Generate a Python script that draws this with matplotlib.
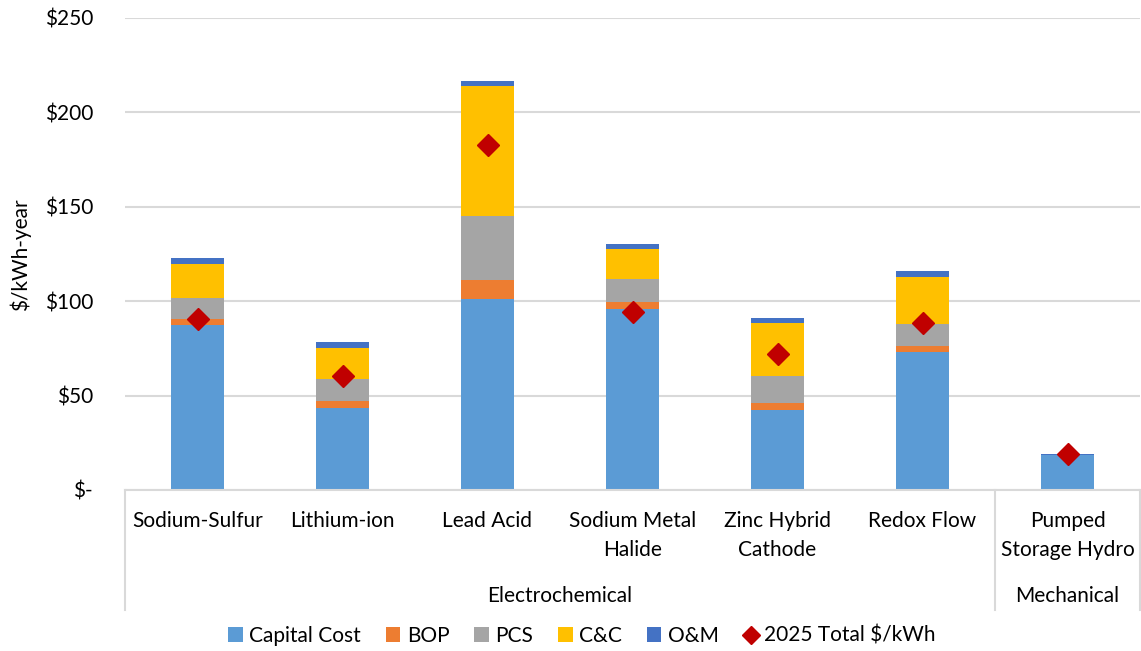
import matplotlib
matplotlib.use("Agg")
import matplotlib.pyplot as plt
import numpy as np
from matplotlib.lines import Line2D
from matplotlib.patches import Patch

plt.rcParams['font.family'] = ['Lato', 'DejaVu Sans']

categories = ["Sodium-Sulfur", "Lithium-ion", "Lead Acid", "Sodium Metal\nHalide",
              "Zinc Hybrid\nCathode", "Redox Flow", "Pumped\nStorage Hydro"]
groups = ["Electrochemical", "Mechanical"]
group_sizes = [6, 1]

capital = [87.2, 43.4, 101.3, 96.0, 42.5, 73.3, 18.4]
bop = [3.2, 3.9, 9.8, 3.7, 3.7, 3.1, 0.0]
pcs = [11.5, 11.7, 34.2, 11.9, 14.3, 11.7, 0.0]
cc = [17.8, 16.4, 68.7, 15.9, 27.8, 24.9, 0.0]
om = [3.0, 2.8, 2.6, 3.0, 3.0, 3.2, 0.8]
total_2025 = [90.7, 60.5, 182.9, 94.3, 71.9, 88.3, 19.2]

series = [("Capital Cost", capital, "#5B9BD5"),
          ("BOP", bop, "#ED7D31"),
          ("PCS", pcs, "#A5A5A5"),
          ("C&C", cc, "#FFC000"),
          ("O&M", om, "#4472C4")]

yticks = [0, 50, 100, 150, 200, 250]
yticklabels = ["$-", "$50", "$100", "$150", "$200", "$250"]

FS = 15

fig = plt.figure(figsize=(11.41, 6.51), dpi=100)
ax = fig.add_axes([125/1141, 1-490/651, 1015/1141, 472/651])

x = np.arange(len(categories))
bottom = np.zeros(len(categories))
for name, vals, col in series:
    v = np.array(vals)
    ax.bar(x, v, width=0.365, bottom=bottom, color=col, zorder=2, label=name)
    bottom += v
ax.plot(x, total_2025, linestyle='none', marker='D', markersize=11.5,
        color='#C00000', zorder=3)

ax.set_xlim(-0.5, len(categories) - 0.5)
ax.set_ylim(0, 250)
ax.set_yticks(yticks)
ax.set_yticklabels(yticklabels, fontsize=FS, color='#000000')
ax.tick_params(axis='y', length=0, pad=23)
ax.set_xticks([])
ax.yaxis.grid(True, color='#D9D9D9', linewidth=1.5, zorder=0)
for s in ['top', 'right', 'left']:
    ax.spines[s].set_visible(False)
ax.spines['bottom'].set_color('#D9D9D9')
ax.spines['bottom'].set_linewidth(1.5)

trans = ax.get_xaxis_transform()
for i, c in enumerate(categories):
    ax.text(i, -0.045, c, transform=trans, ha='center', va='top',
            fontsize=FS, linespacing=1.55)

# group separators
edges = [-0.5]
for g in group_sizes:
    edges.append(edges[-1] + g)
for e in edges:
    ax.plot([e, e], [0, -0.254], transform=trans, color='#D9D9D9',
            linewidth=1.5, clip_on=False)
for gi, g in enumerate(groups):
    mid = (edges[gi] + edges[gi + 1]) / 2
    ax.text(mid, -0.2246, g, transform=trans, ha='center', va='center', fontsize=FS)

fig.text(20/1141, 1-255/651, "$/kWh-year", rotation=90, ha='center', va='center',
         fontsize=FS)

handles = [Patch(facecolor=col, label=name) for name, _, col in series]
handles.append(Line2D([], [], linestyle='none', marker='D', markersize=9,
                      color='#C00000', label='2025 Total $/kWh'))
fig.legend(handles=handles, loc='center', bbox_to_anchor=(582/1141, 1-636/651),
           ncol=6, frameon=False, fontsize=FS, handlelength=0.7, handleheight=0.7,
           handletextpad=0.3, columnspacing=1.2)

fig.savefig("out.png", dpi=100)
